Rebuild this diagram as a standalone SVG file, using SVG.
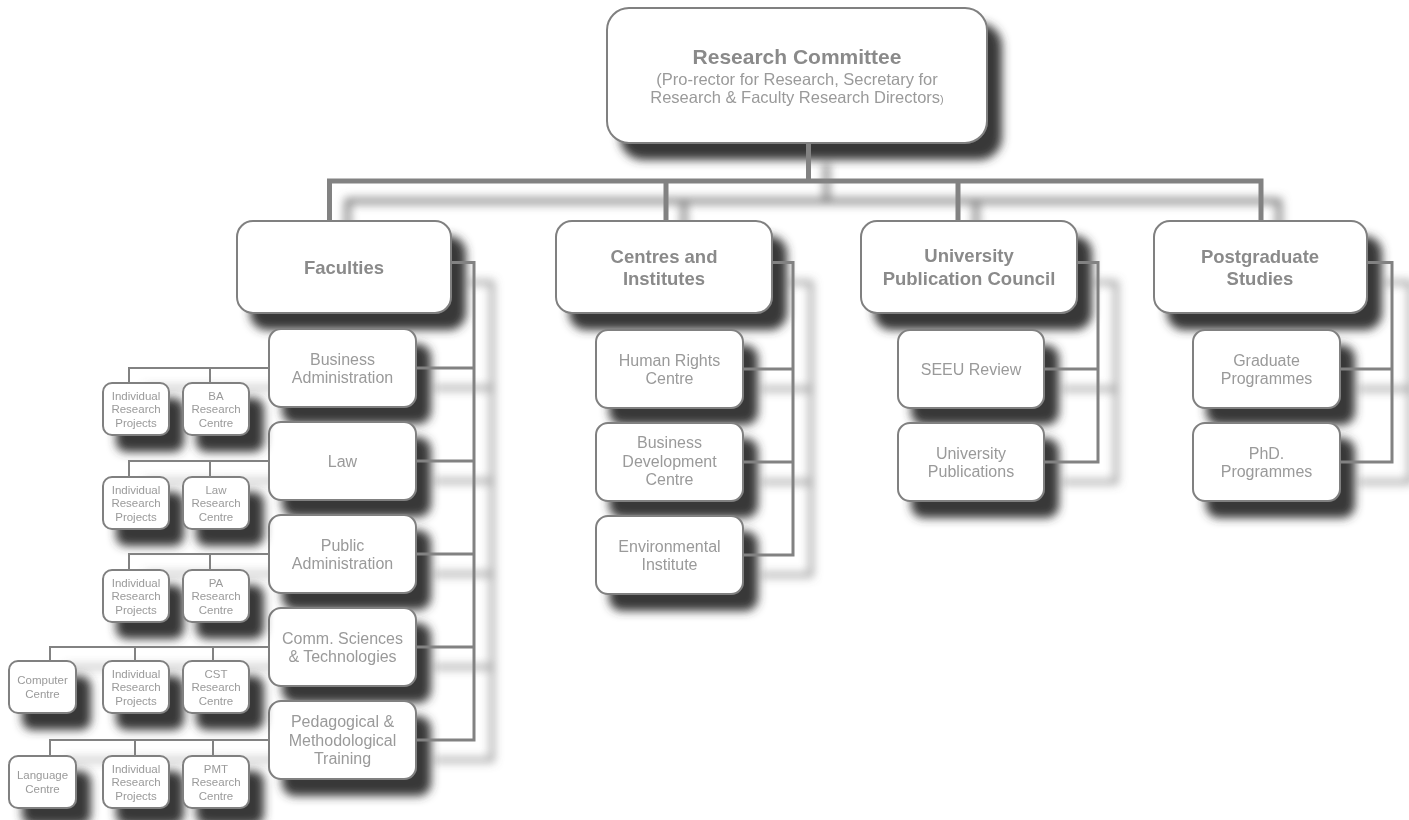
<svg xmlns="http://www.w3.org/2000/svg" xmlns:xlink="http://www.w3.org/1999/xlink" width="1409" height="820" viewBox="0 0 1409 820">
<defs>
<style>
.box{fill:#fff;stroke:#808080;stroke-width:2}
text{font-family:"Liberation Sans",Arial,sans-serif;text-anchor:middle}
.h{font-weight:bold;font-size:18.5px;fill:#8a8a8a}
.c{font-size:16px;fill:#9a9a9a}
.s{font-size:11.5px;fill:#9a9a9a}
.ln{fill:none;stroke:#828282;stroke-linejoin:miter;stroke-linecap:butt}
.w5{stroke-width:5}
.w3{stroke-width:3}
.w2{stroke-width:2}
</style>
<filter id="sh" x="-30%" y="-30%" width="180%" height="190%">
<feGaussianBlur in="SourceAlpha" stdDeviation="5"/>
<feOffset dx="14" dy="16" result="b"/>
<feFlood flood-color="#383838"/>
<feComposite in2="b" operator="in"/>
<feMerge><feMergeNode/><feMergeNode in="SourceGraphic"/></feMerge>
</filter>
<filter id="lsh" filterUnits="userSpaceOnUse" x="0" y="0" width="1409" height="820">
<feGaussianBlur in="SourceAlpha" stdDeviation="5"/>
<feOffset dx="18" dy="20" result="b"/>
<feFlood flood-color="#6a6a6a"/>
<feComposite in2="b" operator="in"/>
</filter>
</defs>
<rect width="1409" height="820" fill="#fff"/>
<g id="connector-shadow"><use href="#connectors" xlink:href="#connectors" filter="url(#lsh)"/></g>
<g id="nodes">
<g id="committee" filter="url(#sh)"><rect class="box" x="607" y="8" width="380" height="135" rx="22"/>
<text x="797" y="64" style="font-weight:bold;font-size:21px;fill:#8a8a8a">Research Committee</text>
<text x="797" y="85" style="font-size:16.5px;fill:#9a9a9a">(Pro-rector for Research, Secretary for</text>
<text x="797" y="103" style="font-size:16.5px;fill:#9a9a9a">Research &amp; Faculty Research Directors<tspan style="font-size:11px">)</tspan></text></g>

<g id="faculties" filter="url(#sh)"><rect class="box" x="237" y="221" width="214" height="92" rx="16"/><text class="h" x="344" y="274">Faculties</text></g>
<g id="centres" filter="url(#sh)"><rect class="box" x="556" y="221" width="216" height="92" rx="16"/><text class="h" x="664" y="263">Centres and</text><text class="h" x="664" y="285">Institutes</text></g>
<g id="upc" filter="url(#sh)"><rect class="box" x="861" y="221" width="216" height="92" rx="16"/><text class="h" x="969" y="262">University</text><text class="h" x="969" y="285">Publication Council</text></g>
<g id="postgrad" filter="url(#sh)"><rect class="box" x="1154" y="221" width="213" height="92" rx="16"/><text class="h" x="1260" y="263">Postgraduate</text><text class="h" x="1260" y="285">Studies</text></g>

<g id="business-admin" filter="url(#sh)"><rect class="box" x="269" y="329" width="147" height="78" rx="12"/><text class="c" x="342.5" y="364.5">Business</text><text class="c" x="342.5" y="383">Administration</text></g>
<g id="law" filter="url(#sh)"><rect class="box" x="269" y="422" width="147" height="78" rx="12"/><text class="c" x="342.5" y="466.75">Law</text></g>
<g id="public-admin" filter="url(#sh)"><rect class="box" x="269" y="515" width="147" height="78" rx="12"/><text class="c" x="342.5" y="550.5">Public</text><text class="c" x="342.5" y="569">Administration</text></g>
<g id="comm-sciences" filter="url(#sh)"><rect class="box" x="269" y="608" width="147" height="78" rx="12"/><text class="c" x="342.5" y="643.5">Comm. Sciences</text><text class="c" x="342.5" y="662">&amp; Technologies</text></g>
<g id="pedagogical" filter="url(#sh)"><rect class="box" x="269" y="701" width="147" height="78" rx="12"/><text class="c" x="342.5" y="727.25">Pedagogical &amp;</text><text class="c" x="342.5" y="745.75">Methodological</text><text class="c" x="342.5" y="764.25">Training</text></g>

<g id="human-rights" filter="url(#sh)"><rect class="box" x="596" y="330" width="147" height="78" rx="12"/><text class="c" x="669.5" y="365.5">Human Rights</text><text class="c" x="669.5" y="384">Centre</text></g>
<g id="business-dev" filter="url(#sh)"><rect class="box" x="596" y="423" width="147" height="78" rx="12"/><text class="c" x="669.5" y="448.25">Business</text><text class="c" x="669.5" y="466.75">Development</text><text class="c" x="669.5" y="485.25">Centre</text></g>
<g id="environmental" filter="url(#sh)"><rect class="box" x="596" y="516" width="147" height="78" rx="12"/><text class="c" x="669.5" y="551.5">Environmental</text><text class="c" x="669.5" y="570">Institute</text></g>

<g id="seeu-review" filter="url(#sh)"><rect class="box" x="898" y="330" width="146" height="78" rx="12"/><text class="c" x="971" y="374.75">SEEU Review</text></g>
<g id="univ-publications" filter="url(#sh)"><rect class="box" x="898" y="423" width="146" height="78" rx="12"/><text class="c" x="971" y="458.5">University</text><text class="c" x="971" y="477">Publications</text></g>

<g id="graduate" filter="url(#sh)"><rect class="box" x="1193" y="330" width="147" height="78" rx="12"/><text class="c" x="1266.5" y="365.5">Graduate</text><text class="c" x="1266.5" y="384">Programmes</text></g>
<g id="phd" filter="url(#sh)"><rect class="box" x="1193" y="423" width="147" height="78" rx="12"/><text class="c" x="1266.5" y="458.5">PhD.</text><text class="c" x="1266.5" y="477">Programmes</text></g>

<g id="irp-ba" filter="url(#sh)"><rect class="box" x="103" y="383" width="66" height="52" rx="9"/><text class="s" x="136" y="399.6">Individual</text><text class="s" x="136" y="413.1">Research</text><text class="s" x="136" y="426.6">Projects</text></g>
<g id="ba-rc" filter="url(#sh)"><rect class="box" x="183" y="383" width="66" height="52" rx="9"/><text class="s" x="216" y="399.6">BA</text><text class="s" x="216" y="413.1">Research</text><text class="s" x="216" y="426.6">Centre</text></g>
<g id="irp-law" filter="url(#sh)"><rect class="box" x="103" y="477" width="66" height="52" rx="9"/><text class="s" x="136" y="493.6">Individual</text><text class="s" x="136" y="507.1">Research</text><text class="s" x="136" y="520.6">Projects</text></g>
<g id="law-rc" filter="url(#sh)"><rect class="box" x="183" y="477" width="66" height="52" rx="9"/><text class="s" x="216" y="493.6">Law</text><text class="s" x="216" y="507.1">Research</text><text class="s" x="216" y="520.6">Centre</text></g>
<g id="irp-pa" filter="url(#sh)"><rect class="box" x="103" y="570" width="66" height="52" rx="9"/><text class="s" x="136" y="586.6">Individual</text><text class="s" x="136" y="600.1">Research</text><text class="s" x="136" y="613.6">Projects</text></g>
<g id="pa-rc" filter="url(#sh)"><rect class="box" x="183" y="570" width="66" height="52" rx="9"/><text class="s" x="216" y="586.6">PA</text><text class="s" x="216" y="600.1">Research</text><text class="s" x="216" y="613.6">Centre</text></g>
<g id="computer-centre" filter="url(#sh)"><rect class="box" x="9" y="661" width="67" height="52" rx="9"/><text class="s" x="42.5" y="684.3">Computer</text><text class="s" x="42.5" y="697.8">Centre</text></g>
<g id="irp-cst" filter="url(#sh)"><rect class="box" x="103" y="661" width="66" height="52" rx="9"/><text class="s" x="136" y="677.6">Individual</text><text class="s" x="136" y="691.1">Research</text><text class="s" x="136" y="704.6">Projects</text></g>
<g id="cst-rc" filter="url(#sh)"><rect class="box" x="183" y="661" width="66" height="52" rx="9"/><text class="s" x="216" y="677.6">CST</text><text class="s" x="216" y="691.1">Research</text><text class="s" x="216" y="704.6">Centre</text></g>
<g id="language-centre" filter="url(#sh)"><rect class="box" x="9" y="756" width="67" height="52" rx="9"/><text class="s" x="42.5" y="779.3">Language</text><text class="s" x="42.5" y="792.8">Centre</text></g>
<g id="irp-pmt" filter="url(#sh)"><rect class="box" x="103" y="756" width="66" height="52" rx="9"/><text class="s" x="136" y="772.6">Individual</text><text class="s" x="136" y="786.1">Research</text><text class="s" x="136" y="799.6">Projects</text></g>
<g id="pmt-rc" filter="url(#sh)"><rect class="box" x="183" y="756" width="66" height="52" rx="9"/><text class="s" x="216" y="772.6">PMT</text><text class="s" x="216" y="786.1">Research</text><text class="s" x="216" y="799.6">Centre</text></g>
</g>
<g id="connectors">
<path class="ln w5" d="M808.5 143 V181 M329.5 221 V181 H1261 V221 M666 181 V221 M958 181 V221"/>
<path class="ln w3" d="M451 262.5 H474 V740 H416 M416 368 H474 M416 461 H474 M416 554 H474 M416 647 H474"/>
<path class="ln w3" d="M772 262.5 H793 V555 H743 M743 369 H793 M743 462 H793"/>
<path class="ln w3" d="M1077 262.5 H1098 V462 H1044 M1044 369 H1098"/>
<path class="ln w3" d="M1367 262.5 H1392 V462 H1340 M1340 369 H1392"/>
<path class="ln w2" d="M269 368 H129 V383 M210 368 V383 M269 461 H129 V477 M210 461 V477 M269 554 H129 V570 M210 554 V570 M269 647 H50 V661 M135 647 V661 M213 647 V661 M269 740 H50 V756 M135 740 V756 M213 740 V756"/>
</g>
</svg>
